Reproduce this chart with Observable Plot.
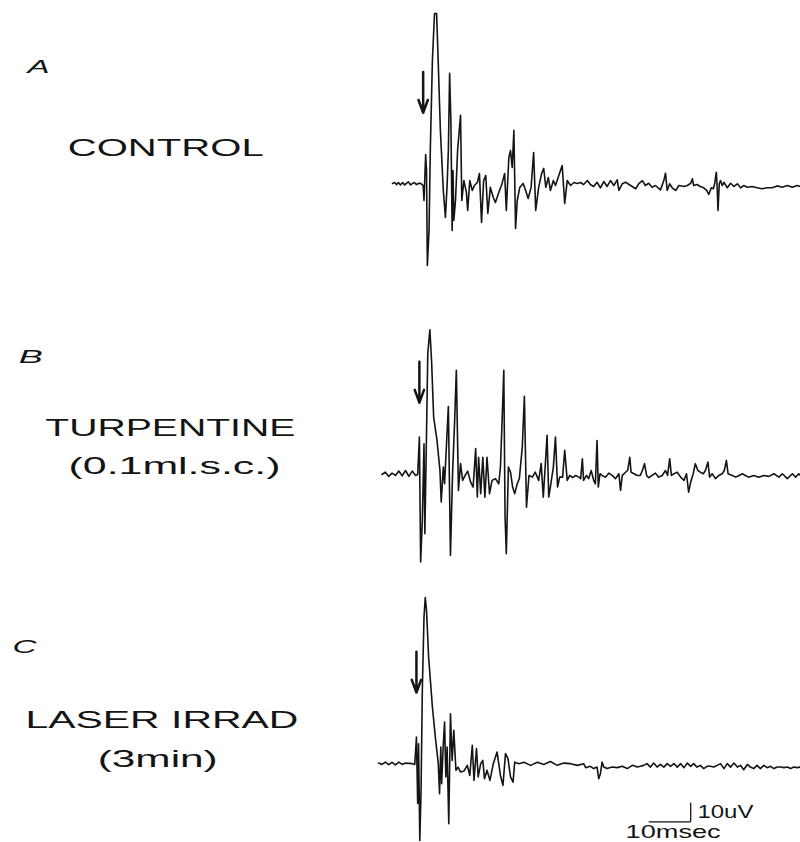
<!DOCTYPE html>
<html>
<head>
<meta charset="utf-8">
<script src="https://cdn.jsdelivr.net/npm/d3@7"></script>
<script src="https://cdn.jsdelivr.net/npm/@observablehq/plot@0.6"></script>
<style>
  html, body { margin: 0; padding: 0; background: #fff; }
  #chart { width: 800px; height: 842px; overflow: hidden; }
</style>
</head>
<body>
<div id="chart"></div>
<script>
// ---- Data (time in msec after sweep start, potential in uV) ----
const panelLetters = ["A", "B", "C"];
const conditionLabels = [["CONTROL"], ["TURPENTINE", "(0.1ml.s.c.)"], ["LASER IRRAD", "(3min)"]];

const controlMs = [0,0.5,1.0,1.4,1.9,2.4,2.9,3.3,3.8,4.3,4.8,5.2,5.7,6.2,6.7,7.3,
  7.5,7.9,8.1,8.3,8.7,9.0,9.5,10.0,10.5,10.8,11.4,12.1,12.6,13.0,13.3,13.6,13.9,14.2,14.4,14.6,
  15.0,15.5,16.2,16.5,17.0,17.6,17.9,18.4,19.0,19.5,20.2,20.7,21.2,21.7,22.2,22.7,23.3,24.0,24.5,25.3,
  26.1,26.7,27.1,27.7,28.1,28.5,28.9,29.3,29.7,30.3,31.1,31.7,32.3,33.0,33.6,34.1,34.8,35.5,36.0,36.5,
  37.1,37.6,38.3,38.8,39.6,40.4,41.0,41.6,42.4,43.2,44.0,44.8,45.5,46.4,47.1,
  47.9,48.7,49.5,50.3,51.1,51.9,52.7,53.5,53.9,54.7,55.5,56.7,57.9,58.6,59.5,60.2,61.0,61.8,62.6,
  63.8,64.6,65.0,65.4,66.0,66.6,67.4,68.2,69.4,70.2,71.0,71.4,71.7,72.5,73.3,74.1,74.8,75.3,75.9,76.4,
  76.7,77.1,77.3,77.5,77.8,78.1,78.5,78.9,79.7,80.5,81.3,82.1,82.9,83.6,84.5,85.6,86.8,88.0,89.2,90.4,
  91.6,92.8,94.0,95.2,96.3,97.1];
const controlUv = [0.3,0.8,-0.3,0.8,-0.5,0.8,-0.5,0.3,1.1,-0.5,0.3,0.8,-0.3,0.3,0.3,-0.8,
  -8.7,15.5,7.1,-42.9,-24.5,17.6,65,89.7,89.7,70.3,28.2,-3.4,-17.6,-0.8,17.6,58.2,33.4,-24.5,7.1,-19.2,
  -8.7,17.6,36.1,-8.7,1.8,-4.5,-13.9,1.8,-3.4,-0.8,0.8,5.5,-20.3,1.8,4.5,-15.5,-1.8,-7.1,-9.7,-4.5,
  0.3,5.5,-13.9,13.9,17.6,8.7,28.2,-23.4,-8.7,-1.8,0.3,-3.4,-7.6,-1.8,16.6,-13.9,-1.8,5.5,8.2,-1.8,
  3.4,-3.4,1.8,-0.8,4.5,9.7,-10.3,1.8,-0.8,0.8,0.3,0.8,-0.3,1.8,-0.3,
  -1.3,0.9,-2.0,1.3,-1.3,1.8,-0.8,2.2,-3.4,0.1,0.9,-0.8,-2.5,0.1,1.8,-0.8,0.4,-1.7,-0.8,
  -3.1,1.8,5.7,-3.4,0.1,-2.0,-3.4,-0.8,-1.3,-0.8,0.4,2.7,-0.8,-0.3,-1.3,-2.0,-3.4,-5.5,-2.0,-2.5,
  0.1,6.2,-1.7,-13.9,0.1,1.8,-0.8,0.9,-2.0,0.4,-1.3,0.1,-2.0,-0.8,-1.7,-1.3,-2.0,-2.5,-2.0,-2.0,
  -1.0,-1.7,-0.8,-1.7,-0.8,-1.3];

const turpentineMs = [-2.5,-1.7,-0.9,-0.1,0.7,1.5,2.3,3.1,3.9,4.7,
  5.5,6.0,6.4,6.7,7.1,7.5,7.7,8.1,8.4,8.9,
  9.3,9.8,10.6,11.3,11.6,12.1,12.4,12.9,13.3,13.8,
  14.3,14.8,15.2,15.7,16.2,16.7,17.3,17.9,18.6,19.2,
  19.8,20.2,20.5,21.0,21.5,22.0,22.5,23.1,23.7,24.5,
  25.3,25.7,26.1,26.5,26.8,27.1,27.6,28.1,28.6,29.1,
  29.7,30.2,30.9,31.4,31.9,32.5,33.3,34.0,34.8,35.4,
  35.9,36.4,36.8,37.2,37.7,38.3,38.8,39.3,39.8,40.5,
  41.0,41.6,42.2,42.9,43.6,44.4,44.8,45.2,45.5,46.2,
  46.7,47.3,47.9,48.3,48.7,49.0,49.4,49.9,50.7,51.5,
  52.3,53.1,53.9,54.3,54.7,55.5,56.0,56.5,56.8,57.5,
  58.3,59.0,59.5,60.0,60.5,61.0,61.8,62.6,63.4,64.2,
  65.0,65.5,66.0,66.4,67.0,67.8,68.6,69.4,70.0,70.5,
  71.0,71.6,72.1,72.7,73.3,74.0,74.5,75.1,75.5,76.1,
  76.9,77.7,78.5,79.0,79.5,79.9,80.9,81.7,82.5,83.3,
  84.0,84.8,86.0,87.2,88.4,89.6,90.8,92.0,92.8,94.0,
  95.2,96.0,96.7,97.1];
const turpentineUv = [-0.3,0.9,-1.3,0.4,-0.8,1.5,-1.0,1.8,-1.3,1.5,
  -0.8,-0.3,19.4,-46.4,-24.5,15.9,-31.5,21.2,63.3,75.9,
  59.7,29.9,17.6,1.8,-14.8,3.6,-5.2,17.6,35.5,-42.9,
  0.1,28.2,54.5,-8.7,5.4,-3.4,-0.8,1.5,-4.3,-6.9,
  13.3,-12.2,8.8,-10.4,8.8,-12.2,8.8,-10.4,-3.4,-2.5,
  -5.2,3.6,28.2,54.5,-22.7,-42.0,3.6,0.9,-6.9,-10.4,
  -5.2,-2.5,14.1,40.8,-17.5,-0.8,-1.7,0.9,-3.4,5.4,
  -12.2,5.4,20.3,-12.2,-5.2,3.6,19.4,-6.9,-1.7,-1.7,
  12.4,-3.4,-0.8,-2.0,-0.8,-1.7,-2.5,8.0,-3.4,-0.8,
  -2.5,1.8,-3.4,-5.2,17.6,-6.9,0.1,-0.8,-1.7,0.4,
  -0.8,-2.5,0.1,-8.7,-0.8,0.9,1.8,8.8,0.9,0.1,
  -0.8,-0.8,1.8,5.4,-0.8,-2.0,-0.8,0.4,-1.7,-0.8,
  1.8,-0.8,8.0,-0.8,0.1,0.9,-1.7,-3.4,0.1,-9.6,
  -4.3,0.1,5.4,1.8,0.9,0.1,1.8,6.2,-1.7,0.1,
  -2.5,-0.8,0.1,1.8,7.1,0.1,-0.8,-1.7,-0.8,0.1,
  -0.8,-1.7,-0.8,-1.7,-0.8,-1.3,0.1,-1.7,0.1,-2.5,
  0.1,-1.7,0.1,-0.8];

const laserMs = [-3.3,-2.5,-1.7,-0.9,-0.1,0.7,1.5,2.3,3.1,4.7,
  5.3,5.7,6.0,6.2,6.5,6.8,7.1,7.5,7.8,8.1,
  8.6,9.5,10.2,10.9,11.2,11.5,11.7,12.1,12.4,12.7,
  13.0,13.4,13.8,14.2,14.6,15.1,15.6,16.2,17.0,17.8,
  18.4,19.0,19.4,20.0,20.4,21.0,21.5,21.9,22.5,23.2,
  24.0,24.9,25.7,26.3,26.9,27.5,28.1,28.7,29.1,30.1,
  31.3,32.9,34.5,36.0,37.6,39.2,40.8,42.4,44.0,45.5,
  46.0,47.1,47.9,48.7,49.1,49.5,49.9,50.3,51.1,52.3,
  53.5,54.7,55.9,57.1,58.3,59.0,59.8,60.6,61.4,62.2,
  63.0,63.8,64.6,65.4,66.2,67.0,67.8,68.6,69.4,70.2,
  71.0,71.7,72.5,73.3,74.1,74.9,75.7,76.5,77.3,78.1,
  78.9,79.7,80.5,81.3,82.1,82.9,83.6,84.5,85.2,86.0,
  86.8,87.6,88.4,89.2,90.0,90.8,91.6,92.4,93.2,94.0,
  94.8,95.5,96.3,97.1];
const laserUv = [0.4,-0.3,0.9,-0.4,0.8,-0.6,0.9,-0.3,0.4,0.1,
  -0.3,14.1,-20.9,10.6,-40.3,-13.9,38.7,77.3,87.5,80.8,
  56.2,29.9,14.1,0.1,-15.7,8.8,-10.4,10.6,22.0,-6.9,
  8.8,-31.5,26.4,1.8,17.6,-3.4,-1.7,-4.3,-3.8,-0.8,
  -6.1,9.7,-8.7,8.0,-6.9,0.1,1.8,-7.8,-3.4,-8.7,
  0.1,6.2,-6.1,-11.3,5.4,2.7,-6.9,-9.6,0.9,0.1,
  0.8,-0.8,0.8,-0.3,1.2,-0.8,0.4,0.1,-0.8,0.1,
  -2.0,-1.3,-2.5,-1.7,-7.8,-5.2,0.9,-1.7,-2.5,-1.7,
  -2.0,-1.3,-2.5,-0.8,-1.7,-1.3,-0.8,0.1,-1.7,0.4,
  -1.7,-0.3,-1.7,0.1,-1.3,0.1,-1.7,0.1,-2.0,0.4,
  -1.3,0.1,-1.7,-0.8,-2.5,-1.3,-1.3,-1.7,-0.8,0.1,
  -2.5,0.1,-1.7,0.4,-1.7,-0.8,-3.1,-0.3,-1.7,-2.5,
  -0.8,-2.5,-0.8,-2.0,-1.3,-2.5,-1.7,-1.7,-2.0,-1.7,
  -2.5,-1.7,-2.0,-1.7];

const stimulusMs = [7.3, 6.4, 5.7];      // stimulus arrow time per trace
const scaleBarMs = 10;                    // horizontal calibration
const scaleBarUv = 10;                    // vertical calibration
const scaleBarLabels = ["10uV", "10msec"];

// ---- Layout (stacked traces on one uV axis) ----
const laneGap = 152.6;                    // uV between trace baselines
const series = [[controlMs, controlUv], [turpentineMs, turpentineUv], [laserMs, laserUv]];
const rows = series.flatMap(([ts, vs], i) =>
  d3.range(Math.min(ts.length, vs.length)).map(j => ({t: ts[j], v: vs[j] - i * laneGap, lane: i})));

const arrows = stimulusMs.map((t, i) => ({t, top: 59 - i * laneGap, bottom: 37.5 - i * laneGap}));

const letterX = [-86.9, -89.0, -90.5];
const letters = panelLetters.map((s, i) => ({text: s, x: letterX[i], y: 61.3 - i * laneGap}));

const labelPos = [[[-54.0, 18.9]], [[-52.9, 24.2], [-51.9, 3.9]], [[-54.9, 22.9], [-55.9, 2.4]]];
const labels = conditionLabels.flatMap((lines, i) =>
  lines.map((s, k) => ({text: s, x: labelPos[i][k][0], y: labelPos[i][k][1] - i * laneGap})));

const barEndT = 71, barBaseV = -30.5 - 2 * laneGap;
const bars = [
  {x1: barEndT - scaleBarMs, x2: barEndT, y1: barBaseV, y2: barBaseV},
  {x1: barEndT, x2: barEndT, y1: barBaseV, y2: barBaseV + scaleBarUv}
];
const barText = [
  {text: scaleBarLabels[0], x: barEndT + 1.6, y: barBaseV + scaleBarUv / 2},
  {text: scaleBarLabels[1], x: barEndT - scaleBarMs - 5.5, y: barBaseV - 5.3}
];

const textWidths = {
  "A": 22, "B": 24, "C": 24,
  "CONTROL": 196, "TURPENTINE": 250, "(0.1ml.s.c.)": 212, "LASER IRRAD": 273, "(3min)": 120,
  "10uV": 56, "10msec": 95
};

const ink = "#141414";
const font = "'Liberation Sans', Arial, Helvetica, sans-serif";

const plot = Plot.plot({
  width: 800,
  height: 842,
  margin: 0,
  style: {background: "#fff", fontFamily: font},
  x: {domain: [-93.33, 97.14], axis: null},
  y: {domain: [-346.6, 96.58], axis: null},
  marks: [
    Plot.line(rows, {x: "t", y: "v", z: "lane", stroke: ink, strokeWidth: 1.6, strokeLinejoin: "round", strokeLinecap: "round"}),
    Plot.arrow(arrows, {x1: "t", x2: "t", y1: "top", y2: "bottom", stroke: ink, strokeWidth: 2.5, headLength: 9, headAngle: 40}),
    Plot.text(letters, {x: "x", y: "y", text: "text", textAnchor: "start", fontSize: 18, fontStyle: "italic", fill: ink}),
    Plot.text(labels, {x: "x", y: "y", text: "text", textAnchor: "middle", fontSize: 24, fill: ink}),
    Plot.link(bars, {x1: "x1", x2: "x2", y1: "y1", y2: "y2", stroke: ink, strokeWidth: 1.3}),
    Plot.text(barText, {x: "x", y: "y", text: "text", textAnchor: "start", fontSize: 19, fill: ink})
  ]
});

// stretch the typewritten labels to their measured widths
d3.select(plot).selectAll("text").each(function() {
  const w = textWidths[this.textContent];
  if (w) {
    this.setAttribute("textLength", w);
    this.setAttribute("lengthAdjust", "spacingAndGlyphs");
  }
});

document.getElementById("chart").appendChild(plot);
</script>
</body>
</html>
